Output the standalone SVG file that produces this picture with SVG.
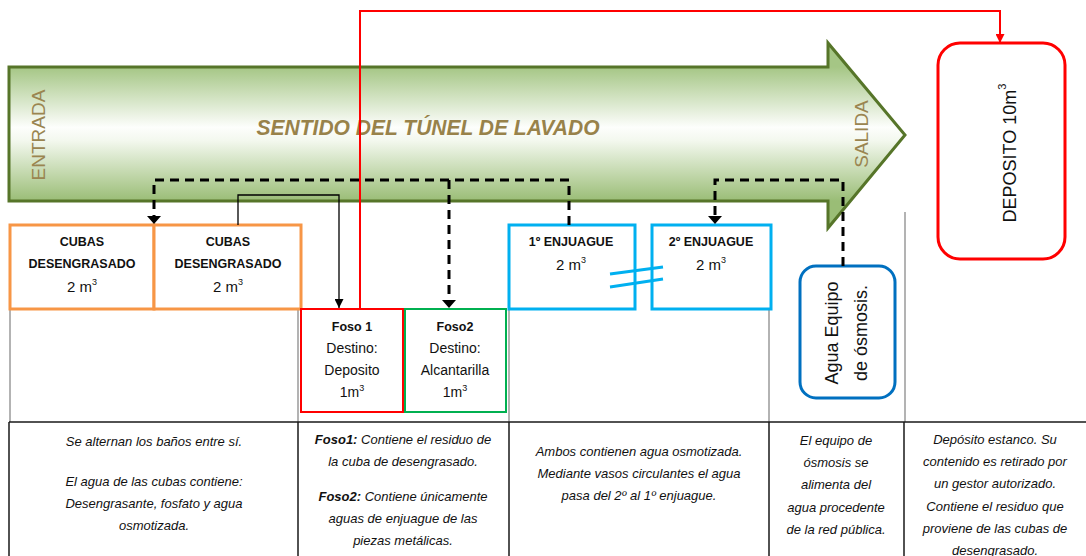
<svg xmlns="http://www.w3.org/2000/svg" width="1086" height="556" viewBox="0 0 1086 556">
<style>
  text { font-family: "Liberation Sans", Arial, sans-serif; fill: #111; }
  .bx { font-size: 14px; text-anchor: middle; }
  .bb { font-size: 12.5px; font-weight: bold; text-anchor: middle; }
  .m3 { font-size: 15px; text-anchor: middle; }
  .sup { font-size: 9px; }
  .it { font-size: 13px; font-style: italic; text-anchor: middle; }
  .rot { font-size: 19px; text-anchor: middle; }
  .grid { stroke: #9a9a9a; stroke-width: 1.5; fill: none; }
  .tbl { stroke: #1a1a1a; stroke-width: 1.5; fill: none; }
  .dash { stroke: #000; stroke-width: 3; stroke-dasharray: 9 6; fill: none; }
</style>
<defs>
  <linearGradient id="g" x1="0" y1="67" x2="0" y2="201" gradientUnits="userSpaceOnUse">
    <stop offset="0" stop-color="#a5c685"/>
    <stop offset="0.45" stop-color="#fdfefc"/>
    <stop offset="0.55" stop-color="#f3f8ee"/>
    <stop offset="1" stop-color="#9abd76"/>
  </linearGradient>
  <marker id="as" viewBox="0 0 10 10" refX="10" refY="5" markerWidth="10" markerHeight="9" markerUnits="userSpaceOnUse" orient="auto">
    <path d="M0,0 L10,5 L0,10 Z" fill="#000" stroke="none"/>
  </marker>
  <marker id="ar" viewBox="0 0 10 10" refX="10" refY="5" markerWidth="11" markerHeight="9" markerUnits="userSpaceOnUse" orient="auto">
    <path d="M0,0 L10,5 L0,10 Z" fill="#ff0000" stroke="none"/>
  </marker>
</defs>

<g id="tunel">
  <path d="M9,67 H828 V43 L905,135 L828,228 V201 H9 Z" fill="url(#g)" stroke="#567529" stroke-width="3" stroke-linejoin="miter"/>
  <text x="428" y="135" font-size="22" font-weight="bold" font-style="italic" text-anchor="middle" style="fill:#98824a" textLength="343" lengthAdjust="spacingAndGlyphs">SENTIDO DEL TÚNEL DE LAVADO</text>
  <text class="rot" style="fill:#9a8550" transform="translate(45,135) rotate(-90)">ENTRADA</text>
  <text class="rot" style="fill:#9a8550" transform="translate(868,134) rotate(-90)">SALIDA</text>
</g>

<g id="grid">
  <path class="grid" d="M10,309 V422 M298,309 V422 M509,309 V422 M769,309 V422 M905,212 V422"/>
  <path class="tbl" d="M9,422 H1086 M9,422 V556 M298,422 V556 M509,422 V556 M769,422 V556 M904,422 V556"/>
</g>

<g id="cubas1">
  <rect x="10" y="225" width="144" height="84" fill="#fff" stroke="#f79646" stroke-width="3"/>
  <text class="bb" x="82" y="246">CUBAS</text>
  <text class="bb" x="82" y="268">DESENGRASADO</text>
  <text class="m3" x="82" y="292">2 m<tspan class="sup" dy="-7">3</tspan></text>
</g>
<g id="cubas2">
  <rect x="154" y="225" width="147" height="84" fill="#fff" stroke="#f79646" stroke-width="3"/>
  <text class="bb" x="228" y="246">CUBAS</text>
  <text class="bb" x="228" y="268">DESENGRASADO</text>
  <text class="m3" x="228" y="292">2 m<tspan class="sup" dy="-7">3</tspan></text>
</g>
<g id="foso1">
  <rect x="301" y="309" width="102" height="103" fill="#fff" stroke="#ff0000" stroke-width="2"/>
  <text class="bb" x="352" y="331">Foso 1</text>
  <text class="bx" x="352" y="353">Destino:</text>
  <text class="bx" x="352" y="375">Deposito</text>
  <text class="bx" x="352" y="397">1m<tspan class="sup" dy="-6">3</tspan></text>
</g>
<g id="foso2">
  <rect x="405" y="309" width="101" height="103" fill="#fff" stroke="#00b050" stroke-width="2"/>
  <text class="bb" x="455" y="331">Foso2</text>
  <text class="bx" x="455" y="353">Destino:</text>
  <text class="bx" x="455" y="375">Alcantarilla</text>
  <text class="bx" x="455" y="397">1m<tspan class="sup" dy="-6">3</tspan></text>
</g>
<g id="enjuague1">
  <rect x="509" y="225" width="126" height="84" fill="#fff" stroke="#00b0f0" stroke-width="3"/>
  <text class="bb" x="571" y="246">1º ENJUAGUE</text>
  <text class="m3" x="571" y="270">2 m<tspan class="sup" dy="-7">3</tspan></text>
</g>
<g id="enjuague2">
  <rect x="652" y="225" width="119" height="84" fill="#fff" stroke="#00b0f0" stroke-width="3"/>
  <text class="bb" x="711" y="246">2º ENJUAGUE</text>
  <text class="m3" x="711" y="270">2 m<tspan class="sup" dy="-7">3</tspan></text>
</g>
<g id="osmosis">
  <rect x="800" y="266" width="95" height="132" rx="16" fill="#fff" stroke="#0070c0" stroke-width="3"/>
  <text font-size="18" text-anchor="middle" transform="translate(838,333) rotate(-90)">Agua Equipo</text>
  <text font-size="18" text-anchor="middle" transform="translate(867,333) rotate(-90)">de ósmosis.</text>
</g>
<g id="deposito">
  <rect x="938" y="43" width="127" height="216" rx="22" fill="#fff" stroke="#ff0000" stroke-width="3"/>
  <text font-size="18" text-anchor="middle" transform="translate(1016,153) rotate(-90)">DEPOSITO 10m<tspan font-size="11" dy="-10">3</tspan></text>
</g>

<g id="connectors">
  <path d="M610,274 L663,267 M610,287 L663,279" stroke="#00b0f0" stroke-width="3" fill="none"/>
  <path class="dash" d="M569,225 V180 H154 V218"/>
  <path class="dash" d="M449,180 V302"/>
  <path class="dash" d="M843,266 V180 H715 V218"/>
  <path d="M147,216 H161 L154,224 Z M442,300 H456 L449,308 Z M708,216 H722 L715,224 Z" fill="#000"/>
  <path d="M238,225 V195 H339 V308" stroke="#000" stroke-width="1.3" fill="none" marker-end="url(#as)"/>
  <path d="M360,309 V11 H1000 V43" stroke="#ff0000" stroke-width="2" fill="none" marker-end="url(#ar)"/>
</g>

<g id="notes">
  <text class="it" x="154" y="446">Se alternan los baños entre sí.</text>
  <text class="it" x="154" y="486">El agua  de las cubas contiene:</text>
  <text class="it" x="154" y="508">Desengrasante,  fosfato y agua</text>
  <text class="it" x="154" y="530">osmotizada.</text>

  <text class="it" x="403" y="444"><tspan font-weight="bold">Foso1:</tspan> Contiene el residuo de</text>
  <text class="it" x="403" y="466">la cuba de desengrasado.</text>
  <text class="it" x="403" y="501"><tspan font-weight="bold">Foso2:</tspan> Contiene únicamente</text>
  <text class="it" x="403" y="523">aguas de enjuague de las</text>
  <text class="it" x="403" y="545">piezas metálicas.</text>

  <text class="it" x="639" y="456">Ambos contienen agua osmotizada.</text>
  <text class="it" x="639" y="478">Mediante vasos circulantes el agua</text>
  <text class="it" x="639" y="500">pasa del 2º al 1º enjuague.</text>

  <text class="it" x="836" y="445">El equipo de</text>
  <text class="it" x="836" y="467">ósmosis se</text>
  <text class="it" x="836" y="489">alimenta del</text>
  <text class="it" x="836" y="512">agua procedente</text>
  <text class="it" x="836" y="534">de la red pública.</text>

  <text class="it" x="995" y="444">Depósito estanco. Su</text>
  <text class="it" x="995" y="466">contenido es retirado por</text>
  <text class="it" x="995" y="488">un gestor autorizado.</text>
  <text class="it" x="995" y="511">Contiene el residuo que</text>
  <text class="it" x="995" y="533">proviene de las cubas de</text>
  <text class="it" x="995" y="555">desengrasado.</text>
</g>
</svg>
